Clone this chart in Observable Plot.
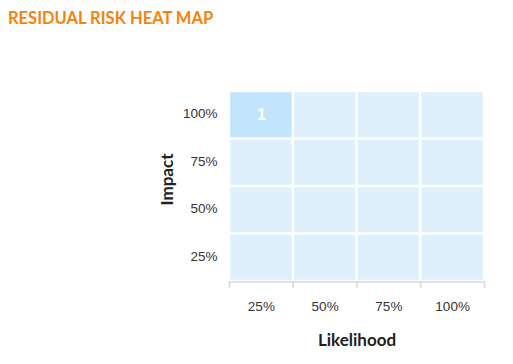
<!DOCTYPE html>
<html><head><meta charset="utf-8">
<script src="https://cdn.jsdelivr.net/npm/d3@7"></script>
<script src="https://cdn.jsdelivr.net/npm/@observablehq/plot@0.6"></script>
<style>
body{margin:0;background:#fff;}
#wrap{position:relative;width:513px;height:364px;}
#title{position:absolute;left:8px;top:8px;font:bold 16.5px Lato,sans-serif;color:#f5820d;letter-spacing:0;}
</style></head>
<body><div id="wrap"><div id="title">RESIDUAL RISK HEAT MAP</div></div>
<script>
const likelihood = ["25%","50%","75%","100%"];
const impact = ["25%","50%","75%","100%"];
// counts[impactIndex][likelihoodIndex]
const counts = [
  [0,0,0,0],
  [0,0,0,0],
  [0,0,0,0],
  [1,0,0,0]
];
const cells = [];
impact.forEach((im, i) => likelihood.forEach((lk, j) => cells.push({i, j, im, lk, n: counts[i][j]})));

const chart = Plot.plot({
  width: 513, height: 364,
  marginLeft: 229, marginRight: 29, marginTop: 91, marginBottom: 83,
  x: {domain: [0, likelihood.length], axis: null},
  y: {domain: [0, impact.length], axis: null},
  style: {fontFamily: "'Liberation Sans', Arial, sans-serif", fontSize: "13.5px", color: "#333"},
  marks: [
    Plot.rect(cells, {x1: d => d.j, x2: d => d.j + 1, y1: d => d.i, y2: d => d.i + 1,
      fill: d => d.n > 0 ? "#c2e3fc" : "#dff0fd", inset: 1.2}),
    Plot.text(cells.filter(d => d.n > 0), {x: d => d.j + 0.5, y: d => d.i + 0.5, text: d => String(d.n),
      fill: "white", fontWeight: "bold", fontSize: 16}),
    Plot.ruleY([0], {stroke: "#d9d9d9", strokeWidth: 1.5, dy: 0.5}),
    Plot.axisX(d3.range(likelihood.length + 1), {tickSize: 7, tickFormat: () => "", stroke: "#d9d9d9", strokeWidth: 1.5}),
    Plot.axisX(likelihood.map((_, j) => j + 0.5), {tickSize: 0, tickPadding: 20, tickFormat: (v) => likelihood[Math.floor(v)], fill: "#333", label: null}),
    Plot.axisY(impact.map((_, i) => i + 0.5), {tickSize: 0, tickPadding: 12, dy: -1.5, tickFormat: (v) => impact[Math.floor(v)], fill: "#333", label: null}),
    Plot.text(["Likelihood"], {frameAnchor: "bottom", lineAnchor: "middle", textAnchor: "middle", dy: 59, text: d => d, fontWeight: "bold", fontSize: 17, fontFamily: "Lato, sans-serif", fill: "#222"}),
    Plot.text(["Impact"], {frameAnchor: "left", lineAnchor: "middle", textAnchor: "middle", dx: -62, dy: -7, rotate: -90, text: d => d, fontWeight: "bold", fontSize: 17, fontFamily: "Lato, sans-serif", fill: "#222"})
  ]
});
document.getElementById("wrap").prepend(chart);
chart.style.position = "absolute"; chart.style.left = "0"; chart.style.top = "0";
</script></body></html>
